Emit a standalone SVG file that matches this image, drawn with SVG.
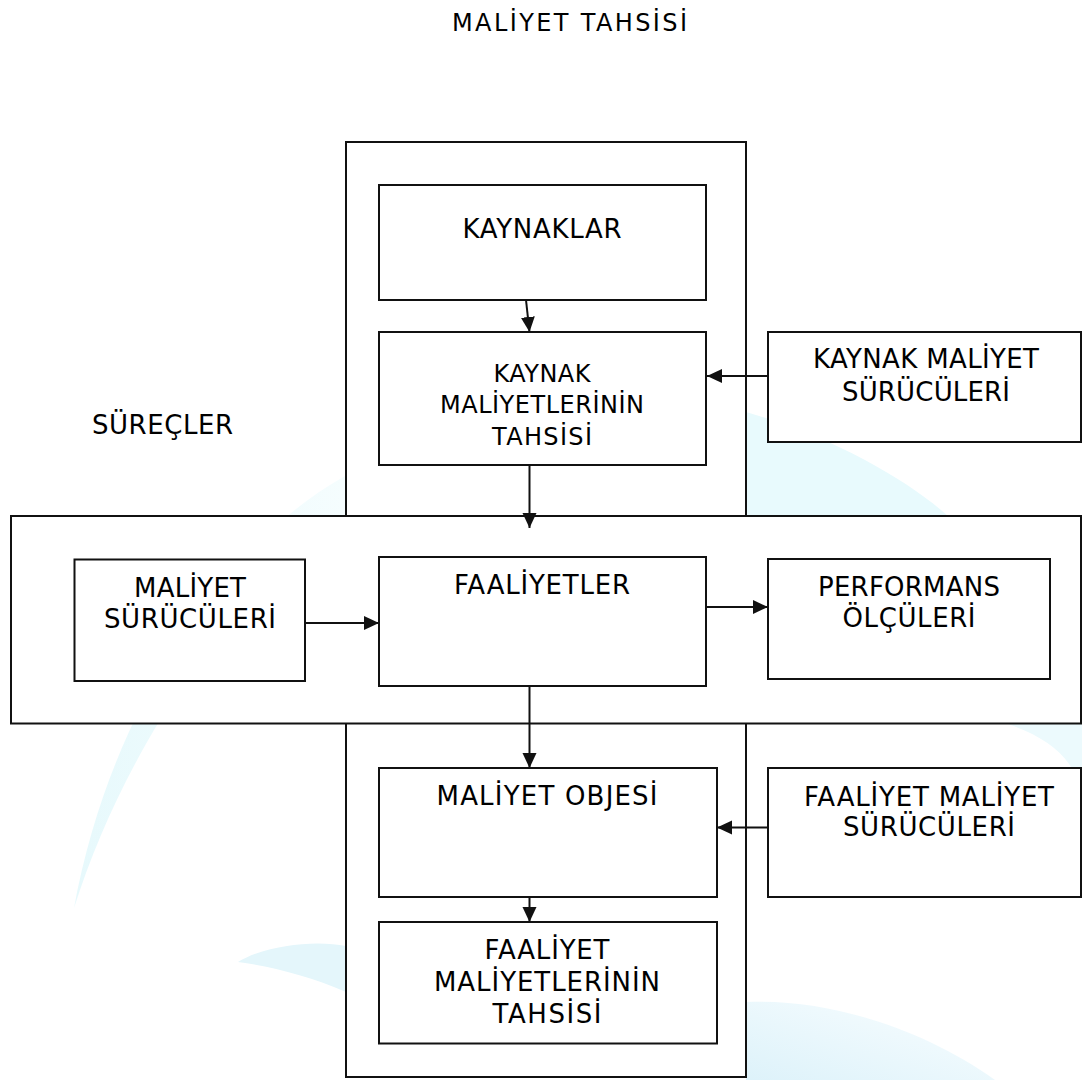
<svg xmlns="http://www.w3.org/2000/svg" width="1082" height="1080" viewBox="0 0 1082 1080">
  <style>
    .box { fill: #ffffff; stroke: #111111; stroke-width: 2; }
    .lbl { font-family: Verdana, "DejaVu Sans", sans-serif; font-size: 26px; fill: #000000; text-anchor: middle; }
    .sm { font-size: 24px; }
    .conn { stroke: #111111; stroke-width: 2; fill: none; marker-end: url(#arrow); }
    .swirl { stroke: none; }
  </style>
  <defs>
    <marker id="arrow" markerUnits="userSpaceOnUse" markerWidth="16" markerHeight="15" refX="15" refY="7" orient="auto">
      <path d="M0,0 L15,7 L0,14 Z" fill="#111111"/>
    </marker>
    <linearGradient id="gl" x1="0" y1="0" x2="1" y2="0">
      <stop offset="0" stop-color="#e7f9fc"/>
      <stop offset="1" stop-color="#f5fdfe"/>
    </linearGradient>
    <linearGradient id="gb" x1="0" y1="1" x2="1" y2="0">
      <stop offset="0" stop-color="#ddf2fa"/>
      <stop offset="1" stop-color="#fafeff"/>
    </linearGradient>
  </defs>
  <rect width="1082" height="1080" fill="#ffffff"/>

  <g id="background">
    <path class="swirl" fill="url(#gl)" d="M345,476 C230,540 112,700 74,908 C118,770 210,610 345,522 Z"/>
    <path class="swirl" fill="#e8fafd" d="M746,412 C830,436 905,478 948,516 L746,516 Z"/>
    <path class="swirl" fill="#ecfafd" d="M1008,724 C1048,738 1072,756 1082,792 L1082,724 Z"/>
    <path class="swirl" fill="url(#gb)" d="M746,1002 C830,998 925,1030 995,1080 L746,1080 Z"/>
    <path class="swirl" fill="#e4f6fb" d="M238,962 C268,944 318,940 346,946 L346,992 C310,976 270,966 238,962 Z"/>
  </g>

  <text id="title" class="lbl sm" x="569.5" y="31" textLength="235">MALİYET TAHSİSİ</text>

  <g id="column">
    <rect class="box" x="346" y="142" width="400" height="935"/>
  </g>
  <g id="band">
    <rect class="box" x="11" y="516" width="1070" height="207.5"/>
  </g>

  <text id="surecler" class="lbl" x="92" y="434" style="text-anchor:start" textLength="141">SÜREÇLER</text>

  <g id="kaynaklar">
    <rect class="box" x="379" y="185" width="327" height="115"/>
    <text class="lbl" x="542" y="238" textLength="159">KAYNAKLAR</text>
  </g>
  <g id="kaynak-maliyetlerinin-tahsisi">
    <rect class="box" x="379" y="332" width="327" height="133"/>
    <text class="lbl sm" x="542" y="382" textLength="97">KAYNAK</text>
    <text class="lbl sm" x="542" y="413" textLength="204">MALİYETLERİNİN</text>
    <text class="lbl sm" x="542" y="445" textLength="100">TAHSİSİ</text>
  </g>
  <g id="kaynak-maliyet-suruculeri">
    <rect class="box" x="768" y="332" width="313" height="110"/>
    <text class="lbl" x="926" y="368" textLength="226">KAYNAK MALİYET</text>
    <text class="lbl" x="926" y="401" textLength="168">SÜRÜCÜLERİ</text>
  </g>
  <g id="maliyet-suruculeri">
    <rect class="box" x="74.5" y="559.5" width="230.5" height="121.5"/>
    <text class="lbl" x="190" y="597" textLength="112">MALİYET</text>
    <text class="lbl" x="190" y="628" textLength="172">SÜRÜCÜLERİ</text>
  </g>
  <g id="faaliyetler">
    <rect class="box" x="379" y="557" width="327" height="129"/>
    <text class="lbl" x="542" y="594" textLength="176">FAALİYETLER</text>
  </g>
  <g id="performans-olculeri">
    <rect class="box" x="768" y="559" width="282" height="120"/>
    <text class="lbl" x="909" y="596" textLength="182">PERFORMANS</text>
    <text class="lbl" x="909" y="627" textLength="133">ÖLÇÜLERİ</text>
  </g>
  <g id="maliyet-objesi">
    <rect class="box" x="379" y="768" width="338" height="129"/>
    <text class="lbl" x="547" y="805" textLength="221">MALİYET OBJESİ</text>
  </g>
  <g id="faaliyet-maliyet-suruculeri">
    <rect class="box" x="768" y="768" width="313" height="129"/>
    <text class="lbl" x="929" y="806" textLength="250">FAALİYET MALİYET</text>
    <text class="lbl" x="929" y="836" textLength="172">SÜRÜCÜLERİ</text>
  </g>
  <g id="faaliyet-maliyetlerinin-tahsisi">
    <rect class="box" x="379" y="922" width="338" height="121.5"/>
    <text class="lbl" x="547" y="959" textLength="125">FAALİYET</text>
    <text class="lbl" x="547" y="991" textLength="226">MALİYETLERİNİN</text>
    <text class="lbl" x="547" y="1023" textLength="109">TAHSİSİ</text>
  </g>

  <g id="connectors">
    <line class="conn" x1="526" y1="300" x2="529.5" y2="332"/>
    <line class="conn" x1="768" y1="376" x2="707" y2="376"/>
    <line class="conn" x1="529.5" y1="465" x2="529.5" y2="528"/>
    <line class="conn" x1="305" y1="623" x2="379" y2="623"/>
    <line class="conn" x1="706" y1="607" x2="768" y2="607"/>
    <line class="conn" x1="529.5" y1="686" x2="529.5" y2="768"/>
    <line class="conn" x1="768" y1="827.5" x2="717" y2="827.5"/>
    <line class="conn" x1="529.5" y1="897" x2="529.5" y2="922"/>
  </g>
</svg>
